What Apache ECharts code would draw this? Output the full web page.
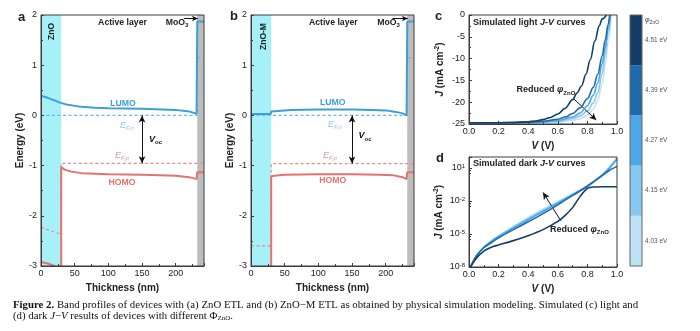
<!DOCTYPE html>
<html>
<head>
<meta charset="utf-8">
<script src="https://cdn.jsdelivr.net/npm/echarts@6/dist/echarts.min.js"></script>
<style>
html,body{margin:0;padding:0;background:#fff;}
#chart{width:700px;height:331px;}
</style>
</head>
<body>
<div id="chart"></div>
<script>
// ---- device stack (thickness, nm) ----
const znoLayer = [0, 30];
const mooLayer = [232, 242];

// ---- (a) ZnO ETL band profile: [thickness nm, energy eV] ----
const aLumo = [[0,0.39],[10,0.35],[20,0.30],[29,0.25],[30,0.28],[31,0.24],[40,0.21],[60,0.17],[80,0.15],[100,0.14],[150,0.13],[200,0.11],[220,0.08],[231,0.03],[232,1.87],[242,1.87]];
const aHomoZnO = [[0,-2.92],[10,-2.95],[20,-3.0],[24,-3.03]];
const aHomo = [[30,-3.1],[30,-1.03],[35,-1.08],[45,-1.12],[60,-1.15],[100,-1.17],[150,-1.18],[200,-1.2],[220,-1.23],[231,-1.27],[232,-1.13],[242,-1.13]];
const aEfn = [[0,0],[232,0],[232,1.15],[242,1.15]];
const aEfp = [[0,-2.23],[30,-2.37],[30,-0.955],[242,-0.955]];

// ---- (b) ZnO-M ETL band profile ----
const bLumo = [[0,0.03],[29.5,0.03],[30,0.08],[40,0.09],[60,0.11],[100,0.12],[150,0.12],[180,0.11],[200,0.1],[215,0.07],[225,0.04],[231,0.0],[232,1.87],[242,1.87]];
const bHomo = [[30,-3.1],[30,-1.21],[35,-1.2],[50,-1.18],[100,-1.17],[150,-1.17],[190,-1.18],[210,-1.19],[225,-1.23],[231,-1.27],[232,-1.13],[242,-1.13]];
const bEfn = [[0,0],[232,0],[232,1.15],[242,1.15]];
const bEfp = [[0,-2.6],[30,-2.6],[30,-0.96],[242,-0.96]];

// ---- ZnO work functions (eV) and their colours ----
const workFunctions = ['4.03', '4.15', '4.27', '4.39', '4.51'];
const wfColors = ['#bfe1f7', '#87c7f1', '#4ba7e6', '#1f6aaa', '#143e68'];

// ---- (c) simulated light J-V: [V, J mA cm^-2] ----
const light451 = [[0,-24.7],[0.1,-24.7],[0.2,-24.7],[0.3,-24.65],[0.4,-24.5],[0.45,-24.3],[0.5,-24.0],[0.55,-23.5],[0.6,-22.7],[0.65,-21.4],[0.7,-19.4],[0.73,-17.9],[0.76,-16.3],[0.79,-13.6],[0.82,-10.2],[0.85,-6.0],[0.88,-2.5],[0.9,-0.9],[0.93,0]];
const light439 = [[0,-24.7],[0.2,-24.7],[0.4,-24.6],[0.5,-24.4],[0.6,-23.9],[0.65,-23.4],[0.7,-22.6],[0.75,-21.3],[0.8,-19.2],[0.84,-16.6],[0.87,-13.6],[0.9,-9.4],[0.92,-5.8],[0.94,-2.2],[0.95,0]];
const light427 = [[0,-24.7],[0.2,-24.7],[0.4,-24.65],[0.5,-24.5],[0.6,-24.2],[0.7,-23.4],[0.75,-22.5],[0.8,-20.8],[0.84,-18.4],[0.87,-15.6],[0.9,-11.2],[0.92,-7.4],[0.94,-3.2],[0.955,0]];
const light415 = [[0,-24.7],[0.2,-24.7],[0.4,-24.7],[0.5,-24.6],[0.6,-24.4],[0.7,-23.8],[0.75,-23.2],[0.8,-22.0],[0.84,-20.2],[0.87,-17.8],[0.9,-13.4],[0.92,-9.2],[0.94,-4.2],[0.958,0]];
const light403 = [[0,-24.7],[0.2,-24.7],[0.4,-24.7],[0.6,-24.6],[0.7,-24.2],[0.75,-23.8],[0.8,-23.0],[0.84,-21.6],[0.87,-19.6],[0.9,-15.8],[0.92,-11.6],[0.94,-6.2],[0.96,0]];

// ---- (d) simulated dark J-V: [V, J mA cm^-2] ----
const dark451 = [[0.01,1e-8],[0.05,6.3e-8],[0.1,2.8e-7],[0.15,6.3e-7],[0.2,1e-6],[0.3,2.5e-6],[0.4,7.1e-6],[0.5,2.5e-5],[0.6,1.4e-4],[0.65,5e-4],[0.7,2.5e-3],[0.75,2.5e-2],[0.8,1.4e-1],[0.85,1.9e-1],[0.9,2e-1],[1.0,2e-1]];
const dark439 = [[0.01,1e-8],[0.05,1e-7],[0.1,5.6e-7],[0.15,1.6e-6],[0.2,4.5e-6],[0.3,2.5e-5],[0.4,1.3e-4],[0.5,7.1e-4],[0.6,4.5e-3],[0.7,3.2e-2],[0.8,2.2e-1],[0.9,2],[0.95,6.3],[1.0,14]];
const dark427 = [[0.01,1e-8],[0.05,1e-7],[0.1,6.3e-7],[0.15,2e-6],[0.2,5.6e-6],[0.3,3.5e-5],[0.4,2e-4],[0.5,1.1e-3],[0.6,6.3e-3],[0.7,3.5e-2],[0.8,2.2e-1],[0.9,2.2],[0.95,10],[1.0,63]];
const dark415 = [[0.01,1e-8],[0.05,1e-7],[0.1,6.3e-7],[0.15,2.2e-6],[0.2,6.3e-6],[0.3,4.2e-5],[0.4,2.5e-4],[0.5,1.4e-3],[0.6,7.4e-3],[0.7,4e-2],[0.8,2.4e-1],[0.9,2.4],[0.95,11.2],[1.0,76]];
const dark403 = [[0.01,1e-8],[0.05,1e-7],[0.1,6.3e-7],[0.15,2.5e-6],[0.2,7.1e-6],[0.3,5e-5],[0.4,3.2e-4],[0.5,1.8e-3],[0.6,8.9e-3],[0.7,4.5e-2],[0.8,2.5e-1],[0.9,2.5],[0.95,12.6],[1.0,89]];

const lightCurves = [light403, light415, light427, light439, light451];
const darkCurves = [dark403, dark415, dark427, dark439, dark451];

// axis tick values
const energyTicks = { min: -3, max: 2, interval: 1 };
const thickTicks = { min: 0, max: 242, interval: 50 };
const voltTicks = { min: 0, max: 1, interval: 0.2 };
const lightJTicks = { min: -25, max: 0, interval: 5 };
const darkJTicks = { min: 1e-8, max: 100, interval: 3 };

// ---- styling ----
const FONT = 'Liberation Sans';
const AX = '#3c3c3c';
const TXT = '#222';
const LUMO_C = '#3d9fd9';
const EFN_C = '#6db5e6';
const EFN_TXT = '#8fc7ec';
const HOMO_C = '#e8716f';
const EFP_C = '#ec8a88';
const EFP_TXT = '#ef9391';
const ZNO_FILL = '#a6f1f7';
const MOO_FILL = '#bdbdbd';

const chart = echarts.init(document.getElementById('chart'), null, { renderer: 'canvas' });

function baseAxis(extra) {
  return Object.assign({
    type: 'value',
    axisLine: { show: true, onZero: false, lineStyle: { color: AX, width: 1 } },
    axisTick: { show: true, inside: true, length: 3, lineStyle: { color: AX } },
    minorTick: { show: true, splitNumber: 2, length: 2, lineStyle: { color: AX } },
    splitLine: { show: false },
    axisLabel: { fontSize: 9, color: TXT, margin: 4, fontFamily: FONT },
    nameTextStyle: { fontSize: 10, fontWeight: 'bold', color: TXT, fontFamily: FONT },
    nameLocation: 'middle',
    z: 5
  }, extra);
}

const italicRich = {
  i: { fontStyle: 'italic', fontWeight: 'bold', fontSize: 10, color: TXT, fontFamily: FONT, lineHeight: 13 },
  sup: { fontSize: 6.5, fontWeight: 'bold', color: TXT, verticalAlign: 'top', lineHeight: 7, fontFamily: FONT }
};

const gridBox = { show: true, borderColor: AX, borderWidth: 1, z: 10, containLabel: false };

function bandLine(gi, data, color, dashed, extra) {
  return Object.assign({
    type: 'line', xAxisIndex: gi, yAxisIndex: gi, data: data,
    showSymbol: false, symbol: 'none', silent: true, clip: true,
    lineStyle: dashed ? { color: color, width: 1.2, type: [3, 2.5] } : { color: color, width: 2 },
    z: dashed ? 3 : 4
  }, extra || {});
}

function layerArea() {
  return {
    silent: true,
    data: [
      [{ xAxis: znoLayer[0], itemStyle: { color: ZNO_FILL } }, { xAxis: znoLayer[1] }],
      [{ xAxis: mooLayer[0], itemStyle: { color: MOO_FILL } }, { xAxis: mooLayer[1] }]
    ]
  };
}

function arrowLine(from, to, both, size) {
  return {
    silent: true, animation: false,
    symbol: both ? ['arrow', 'arrow'] : ['none', 'arrow'],
    symbolSize: size || [5, 7],
    label: { show: false },
    lineStyle: { color: '#111', width: 1, type: 'solid' },
    emphasis: { disabled: true },
    data: [[{ coord: from }, { coord: to }]]
  };
}

const series = [];
// (a)
series.push(bandLine(0, aEfn, EFN_C, true, {
  markArea: layerArea(),
  markLine: arrowLine([150, 0], [150, -0.955], true)
}));
series.push(bandLine(0, aEfp, EFP_C, true, { markLine: arrowLine([212, 1.93], [233, 1.93], false, [4, 6]) }));
series.push(bandLine(0, aLumo, LUMO_C, false));
series.push(bandLine(0, aHomoZnO, HOMO_C, false));
series.push(bandLine(0, aHomo, HOMO_C, false));
// (b)
series.push(bandLine(1, bEfn, EFN_C, true, {
  markArea: layerArea(),
  markLine: arrowLine([150, 0], [150, -0.96], true)
}));
series.push(bandLine(1, bEfp, EFP_C, true, { markLine: arrowLine([210, 1.93], [233, 1.93], false, [4, 6]) }));
series.push(bandLine(1, bLumo, LUMO_C, false));
series.push(bandLine(1, bHomo, HOMO_C, false));
// (c), (d)
lightCurves.forEach(function (d, k) {
  series.push({
    type: 'line', xAxisIndex: 2, yAxisIndex: 2, data: d, showSymbol: false, silent: true,
    smooth: 0.35, smoothMonotone: 'x', clip: true,
    lineStyle: { color: wfColors[k], width: 1.6 }, z: 3 + k,
    markLine: k === 4 ? arrowLine([0.71, -19.3], [0.86, -24.1], false) : undefined
  });
});
darkCurves.forEach(function (d, k) {
  series.push({
    type: 'line', xAxisIndex: 3, yAxisIndex: 3, data: d, showSymbol: false, silent: true,
    smooth: 0.3, clip: true,
    lineStyle: { color: wfColors[k], width: 1.6 }, z: 3 + k,
    markLine: k === 4 ? arrowLine([0.62, 1.6e-4], [0.5, 6e-2], false) : undefined
  });
});
// colour bar
series.push({
  type: 'bar', xAxisIndex: 4, yAxisIndex: 4, silent: true, barWidth: '100%',
  data: workFunctions.map(function (w, k) { return { value: 1, itemStyle: { color: wfColors[k] } }; })
});

function richText(x, y, text, rich, style) {
  return {
    type: 'text', x: x, y: y, silent: true, z: 20,
    style: Object.assign({ text: text, rich: rich || {}, fontFamily: FONT, fontSize: 9, fontWeight: 'bold', fill: TXT, align: 'center', verticalAlign: 'middle' }, style || {})
  };
}

const subRich = function (color, size) {
  return {
    e: { fontStyle: 'italic', fontSize: size || 9, fill: color, fontFamily: FONT, lineHeight: 12 },
    s: { fontStyle: 'italic', fontSize: 6, fill: color, fontFamily: FONT, verticalAlign: 'bottom', lineHeight: 6 }
  };
};
const vocRich = {
  v: { fontStyle: 'italic', fontWeight: 'bold', fontSize: 9, fill: '#111', fontFamily: FONT, lineHeight: 12 },
  s: { fontWeight: 'bold', fontSize: 6, fill: '#111', fontFamily: FONT, verticalAlign: 'bottom', lineHeight: 6 }
};
const phiRich = {
  p: { fontStyle: 'italic', fontWeight: 'bold', fontSize: 9, fill: TXT, fontFamily: FONT, lineHeight: 12 },
  s: { fontWeight: 'bold', fontSize: 6, fill: TXT, fontFamily: FONT, verticalAlign: 'bottom', lineHeight: 6 },
  t: { fontWeight: 'bold', fontSize: 9, fill: TXT, fontFamily: FONT, lineHeight: 12 }
};
const moRich = {
  t: { fontWeight: 'bold', fontSize: 8.7, fill: TXT, fontFamily: FONT, lineHeight: 11 },
  s: { fontWeight: 'bold', fontSize: 6, fill: TXT, fontFamily: FONT, verticalAlign: 'bottom', lineHeight: 6 }
};
const jvTitleRich = {
  t: { fontWeight: 'bold', fontSize: 9, fill: TXT, fontFamily: FONT, lineHeight: 12 },
  i: { fontWeight: 'bold', fontStyle: 'italic', fontSize: 9, fill: TXT, fontFamily: FONT, lineHeight: 12 }
};
const CAP_FONT = 'Liberation Serif';
const CAP_SIZE = 10.8;

const graphics = [
  // panel letters
  richText(21.5, 17, 'a', null, { fontSize: 13 }),
  richText(234, 16, 'b', null, { fontSize: 13 }),
  richText(438.5, 16, 'c', null, { fontSize: 13 }),
  richText(440, 158.5, 'd', null, { fontSize: 13 }),
  // (a) labels
  richText(51.5, 31.5, 'ZnO', null, { fontSize: 8.5 }),
  richText(122.5, 22.7, 'Active layer', null, { fontSize: 8.7 }),
  richText(177, 22.5, '{t|MoO}{s|3}', moRich),
  richText(123, 103.5, 'LUMO', null, { fontSize: 8.7, fill: LUMO_C }),
  richText(127, 125, '{e|E}{s|F,n}', subRich(EFN_TXT), { fontWeight: 'normal' }),
  richText(155.5, 139.5, '{v|V}{s|oc}', vocRich),
  richText(122, 155, '{e|E}{s|F,p}', subRich(EFP_TXT), { fontWeight: 'normal' }),
  richText(122, 183, 'HOMO', null, { fontSize: 8.7, fill: HOMO_C }),
  // (b) labels
  richText(263.5, 36.5, 'ZnO-M', null, { fontSize: 8.5 }),
  richText(333.3, 22.7, 'Active layer', null, { fontSize: 8.7 }),
  richText(388.5, 22.5, '{t|MoO}{s|3}', moRich),
  richText(332.7, 103, 'LUMO', null, { fontSize: 8.7, fill: LUMO_C }),
  richText(335, 124, '{e|E}{s|F,n}', subRich(EFN_TXT), { fontWeight: 'normal' }),
  richText(365, 136, '{v|V}{s|oc}', vocRich),
  richText(330, 155.5, '{e|E}{s|F,p}', subRich(EFP_TXT), { fontWeight: 'normal' }),
  richText(332.7, 181, 'HOMO', null, { fontSize: 8.7, fill: HOMO_C }),
  // (c), (d) labels
  richText(473, 22.7, '{t|Simulated light }{i|J}{t|-}{i|V}{t| curves}', jvTitleRich, { align: 'left' }),
  richText(516.5, 90, '{t|Reduced }{p|φ}{s|ZnO}', phiRich, { align: 'left' }),
  richText(473, 163.5, '{t|Simulated dark }{i|J}{t|-}{i|V}{t| curves}', jvTitleRich, { align: 'left' }),
  richText(550, 229.5, '{t|Reduced }{p|φ}{s|ZnO}', phiRich, { align: 'left' }),
  // colour bar title
  richText(645, 20.5, '{p|φ}{s|ZnO}', {
    p: { fontStyle: 'italic', fontSize: 7, fill: '#444', fontFamily: FONT, lineHeight: 9 },
    s: { fontSize: 4.8, fill: '#444', fontFamily: FONT, verticalAlign: 'bottom', lineHeight: 5 }
  }, { align: 'left', fontWeight: 'normal' }),
  // caption
  richText(13, 305.5, '{b|Figure 2.} Band profiles of devices with (a) ZnO ETL and (b) ZnO\u2212M ETL as obtained by physical simulation modeling. Simulated (c) light and', {
    b: { fontWeight: 'bold', fontFamily: CAP_FONT, fontSize: CAP_SIZE, fill: '#111', lineHeight: 12 }
  }, { align: 'left', fontWeight: 'normal', fontFamily: CAP_FONT, fontSize: CAP_SIZE, fill: '#111' }),
  richText(13, 315.8, '(d) dark {i|J}\u2212{i|V} results of devices with different \u03A6{s|ZnO}.', {
    i: { fontStyle: 'italic', fontFamily: CAP_FONT, fontSize: CAP_SIZE, fill: '#111', lineHeight: 12 },
    s: { fontFamily: CAP_FONT, fontSize: 7, fill: '#111', verticalAlign: 'bottom', lineHeight: 6 }
  }, { align: 'left', fontWeight: 'normal', fontFamily: CAP_FONT, fontSize: CAP_SIZE, fill: '#111' })
];
// vertical layer names
graphics[4].rotation = Math.PI / 2;
graphics[12].rotation = Math.PI / 2;

const option = {
  animation: false,
  textStyle: { fontFamily: FONT },
  grid: [
    Object.assign({ left: 41, top: 15, width: 163, height: 251 }, gridBox),
    Object.assign({ left: 251, top: 15, width: 163, height: 251 }, gridBox),
    Object.assign({ left: 469, top: 15, width: 148, height: 109 }, gridBox),
    Object.assign({ left: 469, top: 157, width: 148, height: 110 }, gridBox),
    Object.assign({ left: 630, top: 15, width: 12, height: 251 }, gridBox, { borderColor: '#666' })
  ],
  xAxis: [
    baseAxis(Object.assign({ gridIndex: 0, name: 'Thickness (nm)', nameGap: 16, axisLabel: { fontSize: 9, color: TXT, margin: 3, showMaxLabel: false } }, thickTicks)),
    baseAxis(Object.assign({ gridIndex: 1, name: 'Thickness (nm)', nameGap: 16, axisLabel: { fontSize: 9, color: TXT, margin: 3, showMaxLabel: false } }, thickTicks)),
    baseAxis(Object.assign({ gridIndex: 2, name: '{i|V} (V)', nameGap: 16, nameTextStyle: { fontSize: 10, fontWeight: 'bold', color: TXT, rich: italicRich },
      axisLabel: { fontSize: 9, color: TXT, margin: 3, formatter: function (v) { return v.toFixed(1); } } }, voltTicks)),
    baseAxis(Object.assign({ gridIndex: 3, name: '{i|V} (V)', nameGap: 16, nameTextStyle: { fontSize: 10, fontWeight: 'bold', color: TXT, rich: italicRich },
      axisLabel: { fontSize: 9, color: TXT, margin: 3, formatter: function (v) { return v.toFixed(1); } } }, voltTicks)),
    { gridIndex: 4, type: 'value', min: 0, max: 1, show: false }
  ],
  yAxis: [
    baseAxis(Object.assign({ gridIndex: 0, name: 'Energy (eV)', nameGap: 13 }, energyTicks)),
    baseAxis(Object.assign({ gridIndex: 1, name: 'Energy (eV)', nameGap: 10 }, energyTicks)),
    baseAxis(Object.assign({ gridIndex: 2, name: '{i|J} (mA cm{sup|-2})', nameGap: 22,
      nameTextStyle: { fontSize: 10, fontWeight: 'bold', color: TXT, lineHeight: 13, rich: italicRich } }, lightJTicks)),
    baseAxis(Object.assign({ gridIndex: 3, type: 'log', logBase: 10, name: '{i|J} (mA cm{sup|-2})', nameGap: 22,
      nameTextStyle: { fontSize: 10, fontWeight: 'bold', color: TXT, lineHeight: 13, rich: italicRich },
      minorTick: { show: true, splitNumber: 3, length: 2, lineStyle: { color: AX } },
      axisLabel: {
        fontSize: 9, color: TXT, margin: 4, showMaxLabel: false,
        formatter: function (v) { return '10{sup|' + Math.round(Math.log10(v)) + '}'; },
        rich: { sup: { fontSize: 6, color: TXT, verticalAlign: 'top', lineHeight: 6 } }
      } }, darkJTicks)),
    {
      gridIndex: 4, type: 'category', position: 'right', data: workFunctions,
      axisLine: { show: false }, splitLine: { show: false },
      axisTick: { show: true, length: 2, alignWithLabel: true, lineStyle: { color: '#888' } },
      axisLabel: { fontSize: 6.5, color: '#555', margin: 3, formatter: '{value} eV' }
    }
  ],
  series: series,
  graphic: graphics
};

chart.setOption(option);
</script>
</body>
</html>
